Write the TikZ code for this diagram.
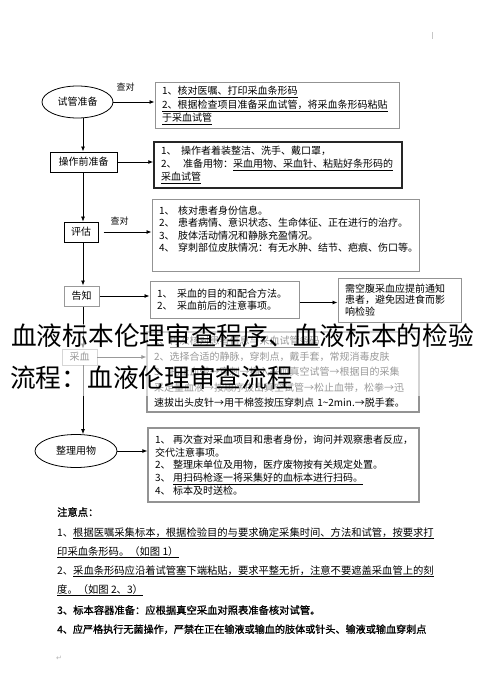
\documentclass[tikz,border=0pt]{standalone}
\usepackage{fontspec}
\setmainfont{Noto Sans CJK SC}
\newfontfamily\symfont{DejaVu Sans}
\newfontfamily\heavyfont{Noto Sans CJK SC}[FakeBold=1.2]
\usetikzlibrary{arrows.meta,shapes.geometric}
\newcommand{\itemno}[2][20pt]{\makebox[#1][l]{#2、}}

\begin{document}
\begin{tikzpicture}[x=1pt,y=-1pt,
    lbox/.style={draw, line width=1pt, minimum height=20pt, inner sep=0pt, font=\fontsize{10}{12}\selectfont},
    oval/.style={ellipse, draw, line width=0.8pt, inner sep=0pt, font=\fontsize{10}{12}\selectfont},
    tbox/.style={draw=gray!85, line width=1pt, align=left, inner xsep=7pt, inner ysep=2pt},
    arr/.style={-{Latex[length=5pt,width=4pt]}, line width=0.8pt},
    lab/.style={font=\fontsize{9}{10}\selectfont},
    note/.style={anchor=base west, inner sep=0pt, font=\fontsize{10.3}{12}\selectfont}]
    \useasboundingbox (0,0) rectangle (490,698);
    \coordinate (spine) at (83,0);
    % steps on the left
    \node[oval, minimum width=71pt, minimum height=32pt] (tube) at (77.5,102) {试管准备};
    \node[lbox, minimum width=67pt] (prep) at (83.5,162) {操作前准备};
    \node[lbox, minimum width=34pt] (assess) at (81,232) {评估};
    \node[lbox, draw=gray!80, minimum width=35pt] (inform) at (81.5,296) {告知};
    \node[lbox, draw=gray!80, line width=0.8pt, minimum width=35pt, minimum height=16pt] (collect) at (79.5,357) {采血};
    \node[oval, minimum width=82pt, minimum height=33pt] (tidy) at (76,451) {整理用物};
    % boxes on the right
    \node[tbox, minimum width=244pt, minimum height=45pt, text width=230pt, font=\fontsize{10}{13.5}\selectfont] (tubeinfo) at (277,105.5)
        {1、\underline{核对医嘱、打印采血条形码}\\\underline{2、根据检查项目准备采血试管，将采血条形码粘贴}\\\underline{于采血试管}};
    \node[tbox, draw=black!85, line width=1.5pt, minimum width=248pt, minimum height=46pt, text width=234pt, font=\fontsize{10}{13}\selectfont] (prepinfo) at (278,165)
        {\itemno{1}操作者着装整洁、洗手、戴口罩，\\\itemno[22pt]{2}准备用物：\underline{采血用物、采血针、粘贴好条形码的}\\\underline{采血试管}};
    \node[tbox, minimum width=267pt, minimum height=72pt, text width=253pt, font=\fontsize{10}{12.3}\selectfont] (assessinfo) at (285.5,235)
        {\itemno[19pt]{1}核对患者身份信息。\\\itemno[19pt]{2}患者病情、意识状态、生命体征、正在进行的治疗。\\\itemno[19pt]{3}肢体活动情况和静脉充盈情况。\\\itemno[19pt]{4}穿刺部位皮肤情况：有无水肿、结节、疤痕、伤口等。\\ \mbox{}};
    \node[tbox, minimum width=149pt, minimum height=37pt, text width=135pt, font=\fontsize{10}{12}\selectfont] (informinfo) at (224.5,299.5)
        {\itemno{1}采血的目的和配合方法。\\\itemno{2}采血前后的注意事项。};
    \node[tbox, minimum width=123pt, minimum height=44pt, text width=109pt, font=\fontsize{10}{11.5}\selectfont] (fasting) at (399.5,300)
        {需空腹采血应提前通知\\患者，避免因进食而影\\响检验};
    \node[tbox, line width=1.2pt, minimum width=272pt, minimum height=80pt, text width=258pt, font=\fontsize{10}{15.5}\selectfont] (collectinfo) at (283,372)
        {1、\underline{再次核对患者信息与采血试管条码}\\2、选择合适的静脉，穿刺点，戴手套，常规消毒皮肤\\3、扎止血带→穿刺→插入采血真空试管→根据目的采集\\采足量血液→按顺序拔出真空试管→松止血带，松拳→迅\\速拔出头皮针→用干棉签按压穿刺点 1\textasciitilde 2min.→脱手套。};
    \node[tbox, line width=1.3pt, minimum width=271pt, minimum height=74pt, text width=257pt, font=\fontsize{10}{12.7}\selectfont] (tidyinfo) at (283.5,465)
        {\itemno[18pt]{1}再次查对采血项目和患者身份，询问并观察患者反应，\\交代注意事项。\\\itemno[18pt]{2}整理床单位及用物，医疗废物按有关规定处置。\\\itemno[18pt]{3}\underline{用扫码枪逐一将采集好的血标本进行扫码。}\\\itemno[18pt]{4}标本及时送检。};
    % connectors
    \draw[arr] (tube.east) -- (tube.east -| tubeinfo.west) node[lab, above=7pt, pos=0.3] {查对};
    \draw[arr] (prep.east) -- (prep.east -| prepinfo.west);
    \draw[arr, shorten <=5pt] (assess.east) -- (assess.east -| assessinfo.west) node[lab, above=3pt, pos=0.4] {查对};
    \draw[arr] (inform.east) -- (inform.east -| informinfo.west);
    \draw[arr] ([yshift=-3pt]informinfo.east) -- ([yshift=-3pt]informinfo.east -| fasting.west);
    \draw[arr] (collect.east) -- (collect.east -| collectinfo.west);
    \draw[arr] (tidy.east) -- (tidy.east -| tidyinfo.west);
    \draw[arr] (tube.south -| spine) -- (prep.north -| spine);
    \draw[arr, line width=0.6pt] (prep.south -| spine) -- (assess.north -| spine);
    \draw[arr] (assess.south -| spine) -- (inform.north -| spine);
    \draw[arr] (inform.south -| spine) -- (collect.north -| spine);
    \draw[arr] (collect.south -| spine) -- (tidy.north -| spine);
    % notes
    \node[note, font=\heavyfont\fontsize{10.3}{12}\selectfont] (notetitle) at (57,516) {注意点：};
    \node[note] (note1a) at (57,536) {1、\underline{根据医嘱采集标本，根据检验目的与要求确定采集时间、方法和试管，按要求打}};
    \node[note] (note1b) at (57,555) {\underline{印采血条形码。（如图 1）}};
    \node[note] (note2a) at (57,574) {2、\underline{采血条形码应沿着试管塞下端粘贴，要求平整无折，注意不要遮盖采血管上的刻}};
    \node[note] (note2b) at (57,593) {\underline{度。（如图 2、3）}};
    \node[note, font=\heavyfont\fontsize{10.3}{12}\selectfont] (note3) at (57,614) {3、标本容器准备：应根据真空采血对照表准备核对试管。};
    \node[note, font=\heavyfont\fontsize{10.1}{12}\selectfont] (note4) at (57,633) {4、应严格执行无菌操作，严禁在正在输液或输血的肢体或针头、输液或输血穿刺点};
    \draw[gray!45, line width=0.6pt] (432,32) -- (432,39);
    \node[gray!60, font=\symfont\fontsize{7}{8}\selectfont] (parmark) at (59,658) {↵};
    % title over the chart
    \fill[white, opacity=0.6] (0,324) rectangle (490,396);
    \node[anchor=base west, inner sep=0pt, font=\fontsize{25.7}{30}\selectfont] (title1) at (11,345) {血液标本伦理审查程序、血液标本的检验};
    \node[anchor=base west, inner sep=0pt, font=\fontsize{25.7}{30}\selectfont] (title2) at (10,387) {流程：血液伦理审查流程};
\end{tikzpicture}
\end{document}
